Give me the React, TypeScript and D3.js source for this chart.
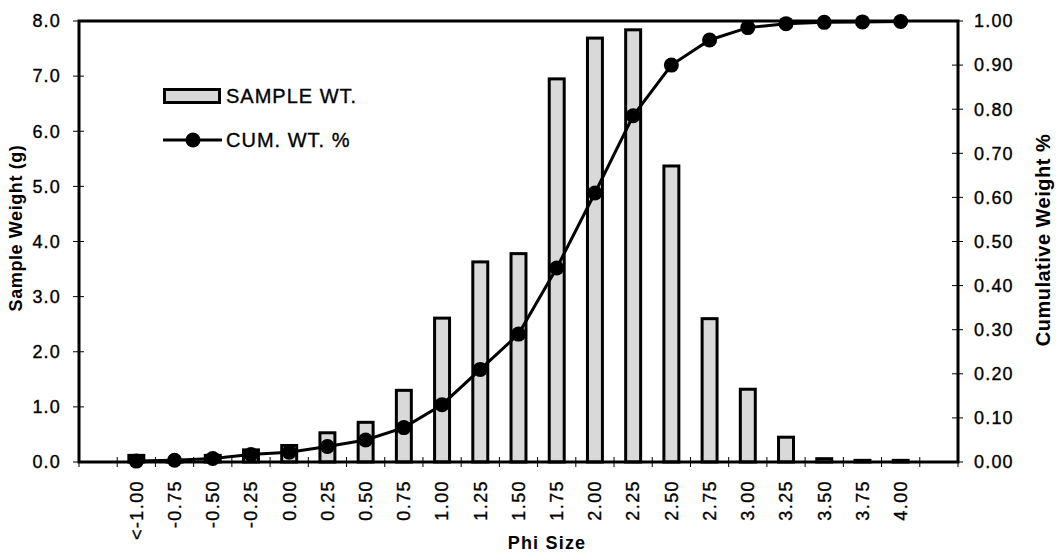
import React from "react";
import * as d3 from "d3";

const categories = ["", "<-1.00", "-0.75", "-0.50", "-0.25", "0.00", "0.25", "0.50", "0.75", "1.00", "1.25", "1.50", "1.75", "2.00", "2.25", "2.50", "2.75", "3.00", "3.25", "3.50", "3.75", "4.00", ""];
const sampleWt: (number | null)[] = [null, 0.12, 0.03, 0.12, 0.22, 0.3, 0.53, 0.72, 1.3, 2.61, 3.63, 3.78, 6.95, 7.69, 7.84, 5.37, 2.6, 1.32, 0.45, 0.06, 0.03, 0.03, null];
const cumWt: (number | null)[] = [null, 0.002, 0.004, 0.008, 0.017, 0.022, 0.035, 0.05, 0.078, 0.13, 0.21, 0.29, 0.44, 0.61, 0.785, 0.9, 0.957, 0.985, 0.994, 0.997, 0.998, 0.999, null];
const leftTicks = [0, 1, 2, 3, 4, 5, 6, 7, 8];
const rightTicks = [0, 0.1, 0.2, 0.3, 0.4, 0.5, 0.6, 0.7, 0.8, 0.9, 1.0];
const seriesNames = ["SAMPLE WT.", "CUM. WT. %"];
const xTitle = "Phi Size";
const yLeftTitle = "Sample Weight (g)";
const yRightTitle = "Cumulative Weight %";

const W = 1064, H = 554;
const L = 79, R = 958, T = 21, B = 462;
const FONT = "'Liberation Sans', Arial, Helvetica, sans-serif";
const BAR_FILL = "#d9d9d9";
const TXT = { fill: "#000", stroke: "#000", strokeWidth: 0.35 };

export default function App() {
  const idx = categories.map((_, i) => i);
  const x = d3.scaleBand<number>().domain(idx).range([L, R]).paddingInner(0).paddingOuter(0);
  const bw = x.bandwidth();
  const yL = d3.scaleLinear().domain([0, 8]).range([B, T]);
  const yR = d3.scaleLinear().domain([0, 1]).range([B, T]);
  const fmtL = d3.format(".1f");
  const fmtR = d3.format(".2f");
  const barW = bw * 0.47 - 3;

  const pts = idx.filter((i) => cumWt[i] !== null).map((i) => [x(i)! + bw / 2, yR(cumWt[i] as number)] as [number, number]);
  const line = d3.line()(pts) || "";

  const boundaries = d3.range(categories.length + 1).map((i) => L + i * bw);

  return (
    <svg width={W} height={H} style={{ position: "absolute", left: 0, top: 0, background: "#fff" }} fontFamily={FONT}>
      <rect x={0} y={0} width={W} height={H} fill="#fff" />
      {/* bars */}
      {idx.map((i) => {
        const v = sampleWt[i];
        if (v === null) return null;
        const cx = x(i)! + bw / 2;
        return (
          <rect key={"b" + i} x={cx - barW / 2} y={yL(v)} width={barW} height={B - yL(v)} fill={BAR_FILL} stroke="#000" strokeWidth={3} />
        );
      })}
      {/* line */}
      <path d={line} fill="none" stroke="#000" strokeWidth={3} />
      {pts.map((p, i) => (
        <circle key={"m" + i} cx={p[0]} cy={p[1]} r={7.5} fill="#000" />
      ))}
      {/* frame */}
      <rect x={L} y={T} width={R - L} height={B - T} fill="none" stroke="#000" strokeWidth={3} />
      {/* x ticks */}
      {boundaries.map((bx, i) => (
        <line key={"xt" + i} x1={bx} x2={bx} y1={B - 5} y2={B + 5} stroke="#000" strokeWidth={1} />
      ))}
      {/* left ticks */}
      {leftTicks.map((t) => (
        <g key={"lt" + t}>
          <line x1={L - 6} x2={L + 5} y1={yL(t)} y2={yL(t)} stroke="#000" strokeWidth={1} />
          <text x={L - 18} y={yL(t)} dy="0.35em" textAnchor="end" fontSize={18} letterSpacing={1.2} {...TXT}>{fmtL(t)}</text>
        </g>
      ))}
      {/* right ticks */}
      {rightTicks.map((t) => (
        <g key={"rt" + t}>
          <line x1={R - 6} x2={R + 5} y1={yR(t)} y2={yR(t)} stroke="#000" strokeWidth={1} />
          <text x={R + 16} y={yR(t)} dy="0.35em" textAnchor="start" fontSize={18} letterSpacing={1.2} {...TXT}>{fmtR(t)}</text>
        </g>
      ))}
      {/* x labels */}
      {idx.map((i) => {
        if (!categories[i]) return null;
        const cx = x(i)! + bw / 2;
        return (
          <text key={"xl" + i} transform={`translate(${cx},${B + 18}) rotate(-90)`} dy="0.35em" textAnchor="end" fontSize={18} letterSpacing={1.4} {...TXT}>
            {categories[i]}
          </text>
        );
      })}
      {/* axis titles */}
      <text x={547} y={549} textAnchor="middle" fontSize={18} fontWeight="bold" letterSpacing={1.2}>{xTitle}</text>
      <text transform={`translate(22,228) rotate(-90)`} textAnchor="middle" fontSize={18} fontWeight="bold" letterSpacing={0.6}>{yLeftTitle}</text>
      <text transform={`translate(1050,240) rotate(-90)`} textAnchor="middle" fontSize={20} fontWeight="bold" letterSpacing={0.5}>{yRightTitle}</text>
      {/* legend */}
      <rect x={164.5} y={89.5} width={55} height={13} fill={BAR_FILL} stroke="#000" strokeWidth={3} />
      <text x={226} y={96} dy="0.35em" fontSize={20} letterSpacing={1} {...TXT}>{seriesNames[0]}</text>
      <line x1={163} x2={222} y1={140} y2={140} stroke="#000" strokeWidth={3} />
      <circle cx={193} cy={140} r={7.5} fill="#000" />
      <text x={226} y={140} dy="0.35em" fontSize={20} letterSpacing={1} {...TXT}>{seriesNames[1]}</text>
    </svg>
  );
}
